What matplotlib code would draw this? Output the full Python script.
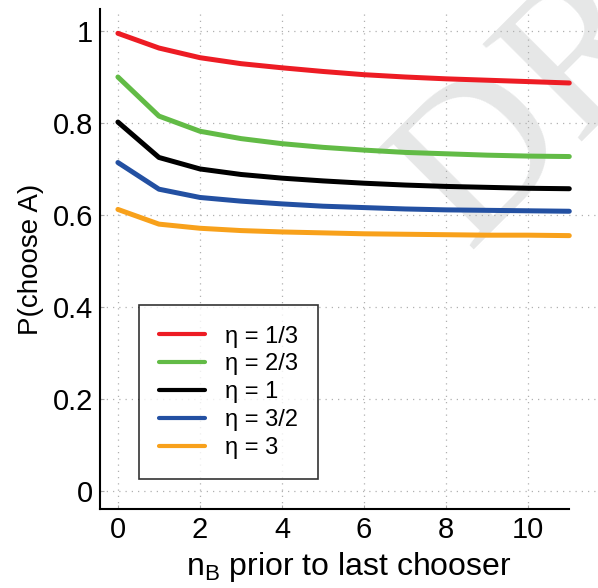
import numpy as np
import matplotlib
matplotlib.use('Agg')
import matplotlib.pyplot as plt

plt.rcParams['font.family'] = ['Liberation Sans', 'DejaVu Sans']
plt.rcParams['mathtext.fontset'] = 'custom'
plt.rcParams['mathtext.rm'] = 'Liberation Sans'

# data
n_B = np.arange(0, 12)

p_eta_1_3 = [0.995, 0.963, 0.942, 0.929, 0.920, 0.912, 0.905, 0.900, 0.896, 0.893, 0.890, 0.887]
p_eta_2_3 = [0.900, 0.815, 0.782, 0.766, 0.755, 0.747, 0.741, 0.736, 0.733, 0.730, 0.728, 0.727]
p_eta_1   = [0.802, 0.725, 0.700, 0.688, 0.680, 0.674, 0.669, 0.665, 0.662, 0.660, 0.658, 0.657]
p_eta_3_2 = [0.714, 0.656, 0.638, 0.630, 0.624, 0.619, 0.616, 0.613, 0.611, 0.610, 0.609, 0.608]
p_eta_3   = [0.612, 0.580, 0.571, 0.566, 0.563, 0.561, 0.559, 0.558, 0.557, 0.556, 0.556, 0.555]

series = [p_eta_1_3, p_eta_2_3, p_eta_1, p_eta_3_2, p_eta_3]
labels = ['η = 1/3', 'η = 2/3', 'η = 1', 'η = 3/2', 'η = 3']
colors = ['#ed1c24', '#62bb46', '#000000', '#2350a2', '#f8a11b']

x_ticks = [0, 2, 4, 6, 8, 10]
y_ticks = [0, 0.2, 0.4, 0.6, 0.8, 1.0]
y_tick_labels = ['0', '0.2', '0.4', '0.6', '0.8', '1']


fig = plt.figure(figsize=(5.98, 5.88), dpi=100)
ax = fig.add_axes([0.167, 0.134, 0.833, 0.850])
ax.patch.set_alpha(0)

# watermark
ax.text(0.74, 0.52, 'DRAFT', transform=ax.transAxes, rotation=45,
        rotation_mode='anchor', ha='left', va='baseline',
        fontsize=152, family='Liberation Serif', color='#e6e7e7',
        zorder=0.5, clip_on=False)

for vals, lab, col in zip(series, labels, colors):
    ax.plot(n_B, vals, color=col, lw=3.6, label=lab, solid_capstyle='round',
            solid_joinstyle='round', zorder=3)

ax.set_xlim(-0.44, 11.7)
ax.set_ylim(-0.04, 1.047)
ax.set_xticks(x_ticks)
ax.set_yticks(y_ticks)
ax.set_yticklabels(y_tick_labels)
ax.tick_params(direction='in', length=3, width=0.8, labelsize=21, color='#aaaaaa', pad=5)

ax.grid(True, linestyle=(0, (1, 4)), color='#b0b0b0', lw=0.9)
ax.spines['top'].set_visible(False)
ax.spines['right'].set_visible(False)
ax.spines['left'].set_linewidth(1.5)
ax.spines['bottom'].set_linewidth(1.5)
ax.spines['bottom'].set_bounds(-0.44, 11)

ax.set_xlabel(r'n$_\mathrm{B}$ prior to last chooser', fontsize=23, labelpad=4)
ax.set_ylabel('P(choose A)', fontsize=20, labelpad=6)

leg = ax.legend(loc='lower left', bbox_to_anchor=(0.078, 0.06), borderaxespad=0,
                fontsize=17, frameon=True, fancybox=False, handlelength=1.95,
                handletextpad=0.85, labelspacing=0.25, borderpad=0.85)
leg.get_frame().set_edgecolor('black')
leg.get_frame().set_linewidth(1.2)
for h in leg.get_lines():
    h.set_linewidth(3.0)

fig.savefig('out.png', dpi=100)
